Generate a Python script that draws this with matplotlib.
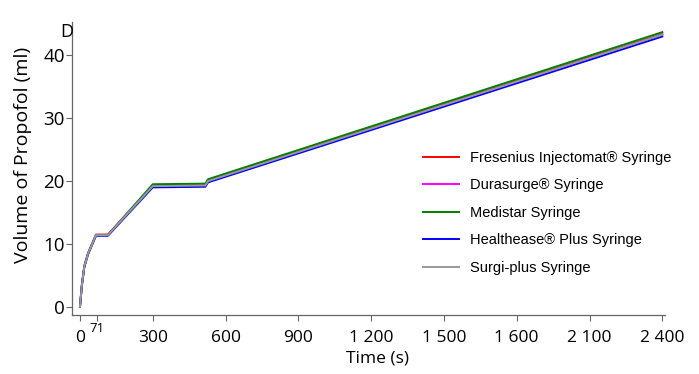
import matplotlib
matplotlib.use("Agg")
from matplotlib import pyplot as plt

# time points (s) and cumulative volume (ml) per syringe
time_s = [0, 8, 18, 33, 66, 115, 300, 517, 528, 2400]
fresenius = [0, 3.6, 6.5, 8.5, 11.5, 11.5, 19.3, 19.4, 20.1, 43.4]
durasurge = [0, 3.5, 6.4, 8.4, 11.4, 11.4, 19.2, 19.3, 20.0, 43.3]
medistar = [0, 3.5, 6.5, 8.5, 11.4, 11.4, 19.5, 19.6, 20.3, 43.7]
healthease = [0, 3.4, 6.3, 8.3, 11.3, 11.3, 19.0, 19.1, 19.8, 43.0]
surgiplus = [0, 3.5, 6.4, 8.4, 11.4, 11.4, 19.2, 19.3, 20.0, 43.3]

series = [
    ("Fresenius Injectomat® Syringe", fresenius, "#ff0000"),
    ("Durasurge® Syringe", durasurge, "#ff00ff"),
    ("Medistar Syringe", medistar, "#008000"),
    ("Healthease® Plus Syringe", healthease, "#0000ff"),
    ("Surgi-plus Syringe", surgiplus, "#999999"),
]

x_ticks = [0, 300, 600, 900, 1200, 1500, 1800, 2100, 2400]
x_labels = ["0", "300", "600", "900", "1 200", "1 500", "1 600", "2 100", "2 400"]
y_ticks = [0, 10, 20, 30, 40]

plt.rcParams["font.family"] = ["Open Sans", "DejaVu Sans"]

fig = plt.figure(figsize=(6.99, 3.74), dpi=100)
ax = fig.add_axes([0.1026, 0.1578, 0.8484, 0.7832])

handles = []
for name, vals, col in series:
    h, = ax.plot(time_s, vals, color=col, lw=1.4, label=name)
    handles.append(h)

ax.set_xlim(-34, 2410)
ax.set_ylim(-1.3, 45.3)
ax.set_xticks(x_ticks)
ax.set_xticklabels(x_labels)
ax.set_xticks([70], minor=True)
ax.set_xticklabels(["71"], minor=True)
ax.set_yticks(y_ticks)

for s in ["top", "right"]:
    ax.spines[s].set_visible(False)
for s in ["left", "bottom"]:
    ax.spines[s].set_color("#666666")
    ax.spines[s].set_linewidth(0.9)

ax.tick_params(axis="x", which="major", direction="out", length=4,
               width=0.8, color="#666666", labelsize=12.5, pad=7)
ax.tick_params(axis="y", which="major", direction="out", length=4,
               width=0.8, color="#666666", labelsize=13.5, pad=1)
ax.tick_params(axis="x", which="minor", direction="out", length=4,
               width=0.8, color="#666666", labelsize=9.5, pad=1)

ax.set_xlabel("Time (s)", fontsize=12.5)
ax.xaxis.set_label_coords(0.515, -0.12)
ax.set_ylabel("Volume of Propofol (ml)", fontsize=14)
ax.yaxis.set_label_coords(-0.067, 0.546)

fig.text(60 / 699, 1 - 32 / 374, "D", fontsize=13, va="center", ha="left")

fig.legend(handles=handles, loc="upper left",
           bbox_to_anchor=(423 / 699, 1 - 151 / 374),
           frameon=False, borderpad=0, borderaxespad=0,
           handlelength=2.5, handletextpad=0.7, labelspacing=0.92,
           prop={"family": "Liberation Sans", "size": 10.5})

fig.savefig("out.png", dpi=100)
